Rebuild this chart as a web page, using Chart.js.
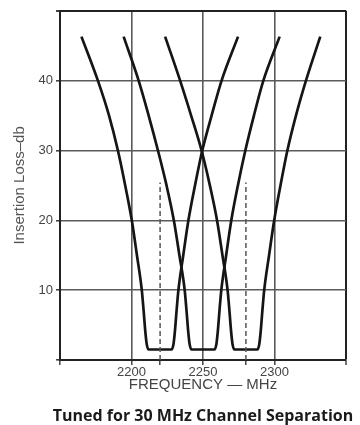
<!DOCTYPE html>
<html lang="en">
<head>
    <meta charset="UTF-8">
    <title>Insertion Loss - 30 MHz Channel Separation</title>
    <script src="https://cdn.jsdelivr.net/npm/chart.js"></script>
    <style>
        html, body {
            margin: 0;
            padding: 0;
            background: #fff;
        }
        .chart-box {
            position: relative;
            width: 360px;
            height: 425px;
        }
    </style>
</head>
<body>
    <div class="chart-box">
        <canvas id="lossChart"></canvas>
    </div>

    <script>
        // axis ticks: frequency (MHz) and loss (db)
        const freqTicks = [2150, 2200, 2250, 2300, 2350];
        const freqLabels = [2200, 2250, 2300];
        const lossTicks = [0, 10, 20, 30, 40, 50];
        const lossLabels = [10, 20, 30, 40];

        // channel 1 (tuned at 2220)
        const ch1Freq = [2165, 2176.5, 2184.3, 2190.5, 2195.6, 2200.2, 2203.8, 2207.2, 2208.5, 2209.7, 2210.7, 2212,
                         2228, 2229.3, 2230.3, 2231.5, 2232.8, 2236.2, 2239.8, 2244.4, 2249.5, 2256, 2263, 2274.5];
        const ch1Loss = [46.3, 40, 35, 30, 25, 20, 15, 10, 7, 4, 2.2, 1.5,
                         1.5, 2.2, 4, 7, 10, 15, 20, 25, 30, 35, 40, 46.3];

        // channel 2 (tuned at 2250)
        const ch2Freq = [2194.5, 2205, 2212, 2218.5, 2224.5, 2229.6, 2233.5, 2237.2, 2238.5, 2239.7, 2240.7, 2242,
                         2258, 2259.3, 2260.3, 2261.5, 2262.8, 2266.2, 2269.8, 2274.4, 2279.6, 2285.6, 2292.2, 2303.6];
        const ch2Loss = [46.3, 40, 35, 30, 25, 20, 15, 10, 7, 4, 2.2, 1.5,
                         1.5, 2.2, 4, 7, 10, 15, 20, 25, 30, 35, 40, 46.3];

        // channel 3 (tuned at 2280)
        const ch3Freq = [2223.5, 2234, 2241.7, 2249, 2254.8, 2259.8, 2263.6, 2267.2, 2268.5, 2269.7, 2270.7, 2272,
                         2288, 2289.3, 2290.3, 2291.5, 2292.8, 2296.2, 2299.8, 2304.2, 2309, 2315, 2322, 2332];
        const ch3Loss = [46.3, 40, 35, 30, 25, 20, 15, 10, 7, 4, 2.2, 1.5,
                         1.5, 2.2, 4, 7, 10, 15, 20, 25, 30, 35, 40, 46.3];

        // dashed channel markers
        const markerFreq = [2220, 2280];
        const markerTop = [25.4, 25.4];

        const caption = 'Tuned for 30 MHz Channel Separation';

        function toPoints(xs, ys) {
            return xs.map((x, i) => ({ x: x, y: ys[i] }));
        }

        function curve(xs, ys) {
            return {
                data: toPoints(xs, ys),
                borderColor: '#151515',
                borderWidth: 2.7,
                pointRadius: 0,
                fill: false,
                cubicInterpolationMode: 'monotone'
            };
        }

        const markerSets = markerFreq.map((f, i) => ({
            data: [{ x: f, y: 0 }, { x: f, y: markerTop[i] }],
            borderColor: '#555',
            borderWidth: 1.5,
            borderDash: [5, 3],
            pointRadius: 0,
            fill: false
        }));

        const edgeColor = '#222';
        const gridColor = '#5a5a5a';

        // caption under the axis, centred on the plot
        const captionPlugin = {
            id: 'caption',
            afterDraw(chart) {
                const ctx = chart.ctx;
                const area = chart.chartArea;
                ctx.save();
                ctx.font = 'bold 16px "Open Sans"';
                ctx.fillStyle = '#1a1a1a';
                ctx.textAlign = 'center';
                ctx.textBaseline = 'alphabetic';
                ctx.fillText(caption, (area.left + area.right) / 2, 421);
                ctx.restore();
            }
        };

        new Chart(document.getElementById('lossChart'), {
            type: 'line',
            data: {
                datasets: [
                    ...markerSets,
                    curve(ch1Freq, ch1Loss),
                    curve(ch2Freq, ch2Loss),
                    curve(ch3Freq, ch3Loss)
                ]
            },
            plugins: [captionPlugin],
            options: {
                responsive: true,
                maintainAspectRatio: false,
                animation: false,
                layout: {
                    padding: { left: 0, right: 14, top: 10, bottom: 29 }
                },
                plugins: {
                    legend: { display: false },
                    tooltip: { enabled: false }
                },
                scales: {
                    x: {
                        type: 'linear',
                        min: freqTicks[0],
                        max: freqTicks[freqTicks.length - 1],
                        afterBuildTicks: scale => {
                            const all = freqTicks.concat(markerFreq).sort((a, b) => a - b);
                            scale.ticks = all.map(v => ({ value: v }));
                        },
                        afterFit: scale => { scale.height = 36; },
                        ticks: {
                            color: '#444',
                            font: { family: 'Liberation Sans', size: 13 },
                            padding: 0,
                            maxRotation: 0,
                            autoSkip: false,
                            callback: v => freqLabels.includes(v) ? v : ''
                        },
                        grid: {
                            color: ctx => {
                                const v = ctx.tick && ctx.tick.value;
                                if (markerFreq.includes(v)) return 'rgba(0,0,0,0)';
                                return v === 2350 ? edgeColor : gridColor;
                            },
                            lineWidth: ctx => ctx.tick && ctx.tick.value === 2350 ? 2 : 1.6,
                            tickColor: '#444',
                            tickWidth: 1.5,
                            tickLength: 5
                        },
                        border: { color: edgeColor, width: 2 },
                        title: {
                            display: true,
                            text: 'FREQUENCY — MHz',
                            color: '#444',
                            font: { family: 'Liberation Sans', size: 15 },
                            padding: { top: 0, bottom: 2 }
                        }
                    },
                    y: {
                        type: 'linear',
                        min: lossTicks[0],
                        max: lossTicks[lossTicks.length - 1],
                        afterBuildTicks: scale => {
                            scale.ticks = lossTicks.map(v => ({ value: v }));
                        },
                        afterFit: scale => { scale.width = 60; },
                        ticks: {
                            color: '#444',
                            font: { family: 'Liberation Sans', size: 13 },
                            padding: 3,
                            callback: v => lossLabels.includes(v) ? v : ''
                        },
                        grid: {
                            color: ctx => ctx.tick && ctx.tick.value === 50 ? edgeColor : gridColor,
                            lineWidth: ctx => ctx.tick && ctx.tick.value === 50 ? 2 : 1.6,
                            tickColor: '#444',
                            tickLength: 4
                        },
                        border: { color: edgeColor, width: 2 },
                        title: {
                            display: true,
                            text: 'Insertion Loss–db',
                            color: '#555',
                            font: { family: 'Liberation Sans', size: 15 },
                            padding: { top: 11, bottom: 0 }
                        }
                    }
                }
            }
        });
    </script>
</body>
</html>
